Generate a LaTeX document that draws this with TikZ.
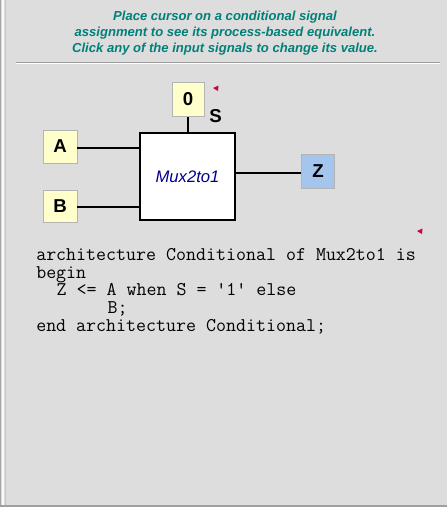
\documentclass[tikz,border=0pt]{standalone}
\usepackage{fontspec}
\setmainfont{Liberation Sans}
\usetikzlibrary{positioning, calc}
\definecolor{cBack}{RGB}{221,221,221}
\definecolor{cTeal}{RGB}{0,128,120}
\definecolor{cNavy}{RGB}{0,0,140}
\definecolor{cYellow}{RGB}{255,255,204}
\definecolor{cBlue}{RGB}{164,198,238}
\definecolor{cEdge}{RGB}{180,180,180}
\definecolor{cPtr}{RGB}{204,0,68}
\tikzset{
	sigbox/.style  ={rectangle, draw=cEdge, line width=0.5pt, fill=cYellow, minimum width=25.5pt, minimum height=24.75pt, inner sep=0pt, font=\fontsize{14}{14}\selectfont\bfseries},
	outbox/.style  ={sigbox, fill=cBlue},
	muxbox/.style  ={rectangle, draw=black, line width=0.8pt, fill=white, minimum width=71.25pt, minimum height=65.25pt, font=\fontsize{12.5}{12.5}\selectfont\itshape, text=cNavy},
	wire/.style    ={line width=1.5pt},
	ptr/.style     ={fill=cPtr},
}
\begin{document}
\begin{tikzpicture}[x=0.75pt, y=-0.75pt]
	\useasboundingbox (0,0) rectangle (447,507);
	\fill[cBack] (0,0) rectangle (447,507);
	% frame
	\draw[gray!70, line width=0.75pt] (0.5,0) -- (0.5,507);
	\draw[white!95!gray, line width=1.5pt] (3,0) -- (3,507);
	\draw[gray!45, line width=0.75pt] (5.5,0) -- (5.5,507);
	\draw[gray!75, line width=1.5pt] (0,506) -- (447,506);
	% heading
	\node[font=\fontsize{9.8}{12}\selectfont\bfseries\itshape, text=cTeal, align=center] (title) at (225,33)
		{Place cursor on a conditional signal\\assignment to see its process-based equivalent.\\Click any of the input signals to change its value.};
	\draw[gray!80, line width=0.75pt] (16,62) -- (440,62);
	\draw[white, line width=0.75pt] (16,63.5) -- (440,63.5);
	% schematic
	\node[muxbox] (mux) at (187.5,176.5) {Mux2to1};
	\node[sigbox, minimum width=24pt, minimum height=25.5pt] (sel) at (188,99.5) {0};
	\node[font=\fontsize{14}{14}\selectfont\bfseries] (slbl) at (215.5,116) {S};
	\node[sigbox] (ina) at (60,146.5) {A};
	\node[sigbox, minimum height=24pt] (inb) at (60,206) {B};
	\node[outbox, minimum width=24.75pt, minimum height=25.5pt] (outz) at (318,171) {Z};
	\draw[wire] (sel.south) -- (sel.south |- mux.north);
	\draw[wire] ($(ina.east)+(0,1.5)$) -- ($(ina.east -| mux.west)+(0,1.5)$);
	\draw[wire] ($(inb.east)+(0,1)$) -- ($(inb.east -| mux.west)+(0,1)$);
	\draw[wire] ($(outz.west)+(0,2)$) -- ($(outz.west -| mux.east)+(0,2)$);
	\fill[ptr] (213,88) -- (218.5,85.5) -- (218,91) -- cycle;
	\fill[ptr] (417,231) -- (422.5,228.5) -- (422,234) -- cycle;
	% code listing
	\node[anchor=north west, inner sep=0pt, align=left, font=\ttfamily\fontsize{14.55}{13.35}\selectfont] (code) at (36,248)
		{architecture Conditional of Mux2to1 is\\
		begin\\
		\hspace*{1.05em}Z <= A when S = '1' else\\
		\hspace*{3.675em}B;\\
		end architecture Conditional;};
\end{tikzpicture}
\end{document}
